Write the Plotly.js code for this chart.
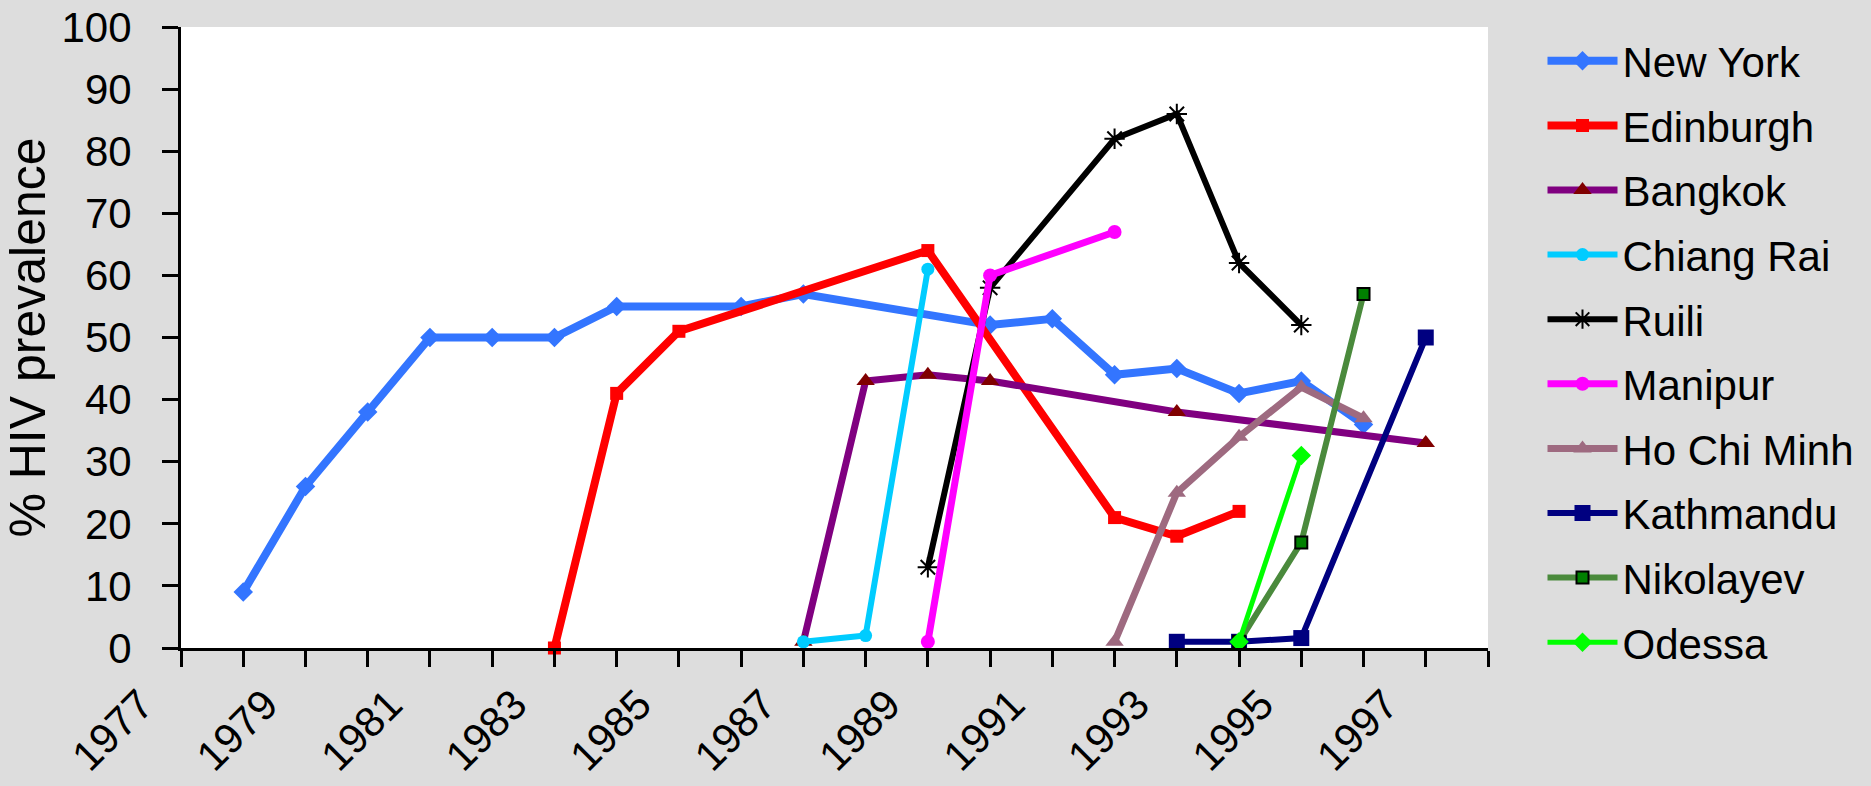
<!DOCTYPE html>
<html>
<head>
<meta charset="utf-8">
<script src="https://cdn.plot.ly/plotly-3.0.1.min.js"></script>
<style>
html,body{margin:0;padding:0;background:#DDDDDD;}
#chart{width:1871px;height:786px;}
</style>
</head>
<body>
<div id="chart"></div>
<script>
// Series names
const seriesNames = ["New York","Edinburgh","Bangkok","Chiang Rai","Ruili","Manipur","Ho Chi Minh","Kathmandu","Nikolayev","Odessa"];

// Years and values per series (% HIV prevalence)
const newYorkYears = [1978,1979,1980,1981,1982,1983,1984,1986,1987,1990,1991,1992,1993,1994,1995,1996];
const newYorkVals  = [9,26,38,50,50,50,55,55,57,52,53,44,45,41,43,36];

const edinburghYears = [1983,1984,1985,1989,1992,1993,1994];
const edinburghVals  = [0,41,51,64,21,18,22];

const bangkokYears = [1987,1988,1989,1990,1993,1997];
const bangkokVals  = [1,43,44,43,38,33];

const chiangRaiYears = [1987,1988,1989];
const chiangRaiVals  = [1,2,61];

const ruiliYears = [1989,1990,1992,1993,1994,1995];
const ruiliVals  = [13,58,82,86,62,52];

const manipurYears = [1989,1990,1992];
const manipurVals  = [1,60,67];

const hoChiMinhYears = [1992,1993,1994,1995,1996];
const hoChiMinhVals  = [1,25,34,42,37];

const kathmanduYears = [1993,1994,1995,1997];
const kathmanduVals  = [1,1,1.6,50];

const nikolayevYears = [1994,1995,1996];
const nikolayevVals  = [1,17,57];

const odessaYears = [1994,1995];
const odessaVals  = [1,31];

// Axis ticks
const yTickVals = [0,10,20,30,40,50,60,70,80,90,100];
const xLabelYears = [1977,1979,1981,1983,1985,1987,1989,1991,1993,1995,1997];

const styles = [
  {line:{color:'#3375FF',width:8}, marker:{symbol:'diamond',size:15,color:'#3375FF'}},
  {line:{color:'#FF0000',width:8}, marker:{symbol:'square',size:13,color:'#FF0000'}},
  {line:{color:'#800080',width:7}, marker:{symbol:'triangle-up',size:16,color:'#800000'}},
  {line:{color:'#00CCFF',width:6}, marker:{symbol:'circle',size:13,color:'#00CCFF'}},
  {line:{color:'#000000',width:6}, marker:{symbol:'asterisk-open',size:17,color:'#000000',line:{color:'#000000',width:2}}},
  {line:{color:'#FF00FF',width:7}, marker:{symbol:'circle',size:14,color:'#FF00FF'}},
  {line:{color:'#9E6A80',width:7}, marker:{symbol:'triangle-up',size:16,color:'#9E6A80'}},
  {line:{color:'#000080',width:6}, marker:{symbol:'square',size:16,color:'#000080'}},
  {line:{color:'#4A8A3C',width:6}, marker:{symbol:'square',size:12,color:'#008000',line:{color:'#000000',width:2}}},
  {line:{color:'#00FF00',width:5}, marker:{symbol:'diamond',size:15,color:'#00FF00'}}
];

const xs = [newYorkYears,edinburghYears,bangkokYears,chiangRaiYears,ruiliYears,manipurYears,hoChiMinhYears,kathmanduYears,nikolayevYears,odessaYears];
const ys = [newYorkVals,edinburghVals,bangkokVals,chiangRaiVals,ruiliVals,manipurVals,hoChiMinhVals,kathmanduVals,nikolayevVals,odessaVals];

const traces = seriesNames.map((n,i)=>({
  type:'scatter', mode:'lines+markers', name:n, x:xs[i], y:ys[i],
  line:styles[i].line, marker:styles[i].marker, cliponaxis:false,
  legendgroup:'g'+i
}));

const FONT = 'Liberation Sans, Arial, sans-serif';

const layout = {
  width:1871, height:786,
  paper_bgcolor:'#DDDDDD', plot_bgcolor:'#FFFFFF',
  margin:{l:181, r:383, t:27, b:138, autoexpand:false},
  font:{family:FONT, color:'#000000', size:42},
  showlegend:true,
  legend:{x:1.0417, xanchor:'left', y:1.0, yanchor:'top', bgcolor:'rgba(0,0,0,0)',
          font:{family:FONT, size:42, color:'#000000'}, itemwidth:70,
          traceorder:'grouped', tracegroupgap:7, maxheight:760},
  xaxis:{
    range:[1977,1998], tickmode:'array', tickvals:xLabelYears, ticktext:xLabelYears.map(String),
    tickangle:-45, ticks:'outside', ticklen:16, tickwidth:3, tickcolor:'#000',
    ticklabelstandoff:-4, ticklabelshift:-40,
    showline:true, linewidth:3, linecolor:'#000', showgrid:false, zeroline:false,
    tickfont:{family:FONT, size:42, color:'#000'},
    minor:{tickmode:'linear', tick0:1977, dtick:1, ticks:'outside', ticklen:16, tickwidth:3, tickcolor:'#000', showgrid:false}
  },
  yaxis:{
    range:[0,100], tickmode:'array', tickvals:yTickVals, ticks:'outside', ticklen:16, tickwidth:3, tickcolor:'#000',
    ticklabelstandoff:22,
    showline:true, linewidth:3, linecolor:'#000', showgrid:false, zeroline:false,
    tickfont:{family:FONT, size:42, color:'#000'},
    title:{text:'% HIV prevalence', font:{family:FONT, size:50, color:'#000'}, standoff:5}
  }
};

Plotly.newPlot('chart', traces, layout, {staticPlot:true, displayModeBar:false});
</script>
</body>
</html>
